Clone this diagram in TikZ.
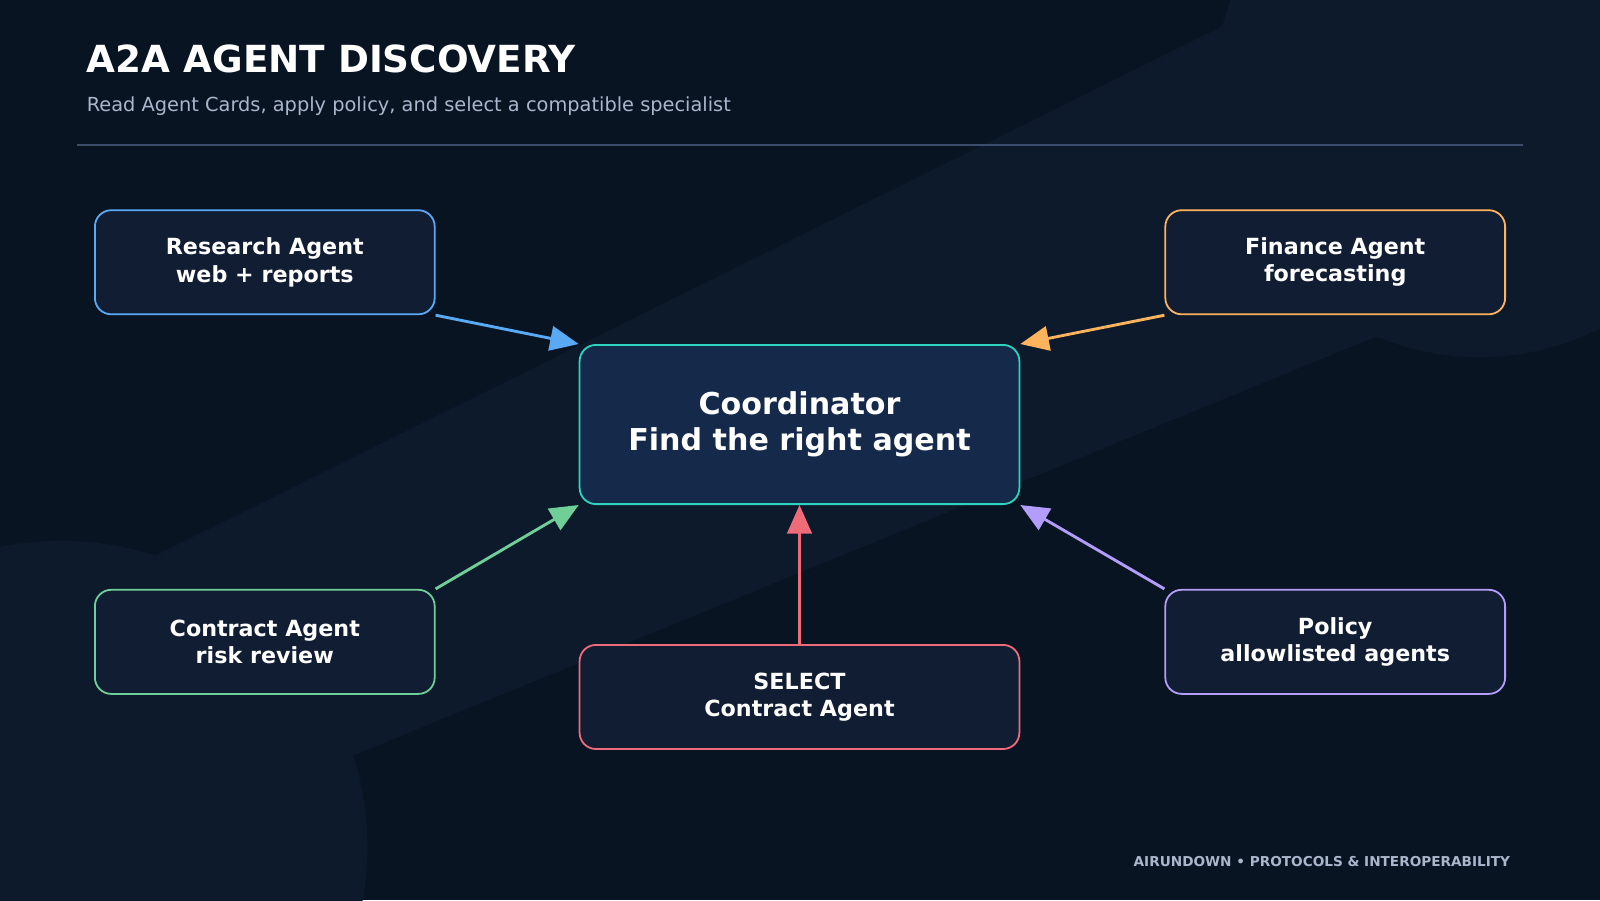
\documentclass[tikz,border=0pt]{standalone}
\usepackage{fontspec}
\setmainfont{DejaVu Sans}
\usetikzlibrary{arrows.meta}
\definecolor{bgdark}{HTML}{091423}
\definecolor{bgband}{HTML}{0C1A2B}
\definecolor{boxfill}{HTML}{111D33}
\definecolor{corefill}{HTML}{152A4A}
\definecolor{cblue}{HTML}{5AA9F5}
\definecolor{corange}{HTML}{FFB35C}
\definecolor{cteal}{HTML}{2DD4BF}
\definecolor{cgreen}{HTML}{6FCF97}
\definecolor{cred}{HTML}{F06B7A}
\definecolor{cpurple}{HTML}{B39DFA}
\definecolor{subgrey}{HTML}{A9B6CC}
\definecolor{rulegrey}{HTML}{3B4D6A}
\begin{document}
\begin{tikzpicture}[thick]
        %
        % `agent' is used for the outer boxes, `core' for the coordinator.
        % `link' is used for all connectors.
        \tikzstyle{agent} = [draw,fill=boxfill,rounded corners=0.16cm,minimum width=3.33cm,minimum height=1.02cm,align=center,text=white,font=\fontsize{6.2}{7.6}\selectfont\bfseries,line width=0.5pt]
        \tikzstyle{core} = [agent,fill=corefill,draw=cteal,minimum width=4.31cm,minimum height=1.56cm,font=\fontsize{8.4}{10.2}\selectfont\bfseries]
        \tikzstyle{link} = [-{Triangle[length=0.28cm,width=0.24cm]},line width=0.8pt]
        %
        % Background
        \fill[bgdark] (0,0) rectangle (15.68,-8.82);
        \begin{scope}
        \clip (0,0) rectangle (15.68,-8.82);
        \fill[bgband] (0,-6.2) -- (12.5,0) -- (15.68,0) -- (15.68,-2.4) -- (0,-8.82) -- cycle;
        \fill[bgband] (14.5,-0.9) circle (2.6);
        \fill[bgband] (0.6,-8.3) circle (3.0);
        \end{scope}
        \useasboundingbox (0,0) rectangle (15.68,-8.82);
        %
        % Header
        \node[anchor=west,text=white,font=\fontsize{10.4}{12}\selectfont\bfseries] (title) at (0.72,-0.58) {A2A AGENT DISCOVERY};
        \node[anchor=west,text=subgrey,font=\fontsize{5.4}{6.5}\selectfont] (subtitle) at (0.72,-1.04) {Read Agent Cards, apply policy, and select a compatible specialist};
        \coordinate (rulel) at (0.75,-1.42);
        \coordinate (ruler) at (14.93,-1.42);
        \draw[rulegrey,line width=0.6pt] (rulel) -- (ruler);
        %
        % Agents
        \node[core] (coord) at (7.835,-4.16) {Coordinator\\Find the right agent};
        \node[agent,draw=cblue] (research) at (2.595,-2.57) {Research Agent\\web + reports};
        \node[agent,draw=corange] (finance) at (13.085,-2.57) {Finance Agent\\forecasting};
        \node[agent,draw=cgreen] (contract) at (2.595,-6.29) {Contract Agent\\risk review};
        \node[agent,draw=cpurple] (policy) at (13.085,-6.29) {Policy\\allowlisted agents};
        \node[agent,draw=cred,minimum width=4.31cm] (select) at (7.835,-6.83) {SELECT\\Contract Agent};
        %
        % Connectors
        \draw[link,cblue] (research.south east) -- (coord.north west);
        \draw[link,corange] (finance.south west) -- (coord.north east);
        \draw[link,cgreen] (contract.north east) -- (coord.south west);
        \draw[link,cpurple] (policy.north west) -- (coord.south east);
        \draw[link,cred] (select.north) -- (coord.south);
        %
        % Footer
        \node[anchor=east,text=subgrey,font=\fontsize{3.8}{4.6}\selectfont\bfseries] (footer) at (14.93,-8.44) {AIRUNDOWN • PROTOCOLS \& INTEROPERABILITY};
\end{tikzpicture}
\end{document}
